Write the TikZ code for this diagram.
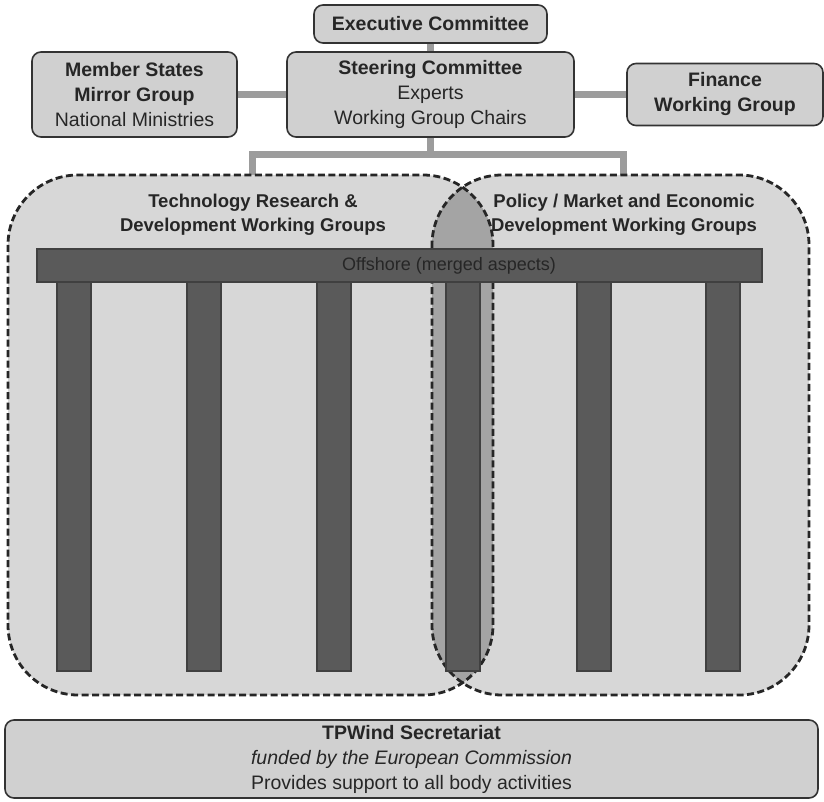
\documentclass[tikz,border=0pt]{standalone}
\usepackage{fontspec}
\setmainfont{Liberation Sans}
\definecolor{boxgray}{HTML}{D0D0D0}
\definecolor{grpgray}{HTML}{D7D7D7}
\definecolor{lensgray}{HTML}{A4A4A4}
\definecolor{bargray}{HTML}{5A5A5A}
\definecolor{linegray}{HTML}{9C9C9C}
\tikzstyle{bx}=[draw=black!80,line width=1.6pt,fill=boxgray,rounded corners=9pt,align=center,inner sep=0pt,text=black!85,font=\fontsize{19.5}{25}\selectfont]
\tikzstyle{conn}=[linegray,line width=7pt]
\tikzstyle{grp}=[fill=grpgray,rounded corners=70pt]
\tikzstyle{grpline}=[draw=black!85,line width=2.8pt,dash pattern=on 7pt off 3.5pt,rounded corners=70pt]
\tikzstyle{pillar}=[draw=black!75,line width=1.2pt,fill=bargray]
\tikzstyle{grplbl}=[align=center,text=black!85,font=\bfseries\fontsize{18.5}{24}\selectfont]

\begin{document}
\begin{tikzpicture}[x=1pt,y=-1pt]
\useasboundingbox (0,0) rectangle (824,802);
% committees
\node[bx,minimum width=233pt,minimum height=38pt] (exec) at (430.5,24) {\textbf{Executive Committee}};
\node[bx,minimum width=287pt,minimum height=85pt] (steer) at (430.5,94.5) {\textbf{Steering Committee}\\Experts\\Working Group Chairs};
\node[bx,minimum width=205pt,minimum height=85pt] (mirror) at (134.5,94.5) {\textbf{Member States}\\\textbf{Mirror Group}\\National Ministries};
\node[bx,minimum width=196pt,minimum height=62pt] (fin) at (725,94.5) {\textbf{Finance}\\\textbf{Working Group}};
\draw[conn] (exec) -- (steer);
\draw[conn] (mirror) -- (steer);
\draw[conn] (steer) -- (fin);
\coordinate (brk) at (430.5,155);
\coordinate (tl) at (252,175);
\coordinate (tr) at (623,175);
\draw[conn] (steer) -- (brk);
\draw[conn] (tl) |- (brk) -| (tr);
% working group areas
\fill[grp] (8,175) rectangle (493,695);
\fill[grp] (432,175) rectangle (809,695);
\begin{scope}
\clip[rounded corners=70pt] (8,175) rectangle (493,695);
\fill[lensgray,rounded corners=70pt] (432,175) rectangle (809,695);
\end{scope}
\draw[grpline] (8,175) rectangle (493,695);
\draw[grpline] (432,175) rectangle (809,695);
\node[grplbl] (techlbl) at (253,215) {Technology Research \&\\Development Working Groups};
\node[grplbl] (polylbl) at (624,215) {Policy / Market and Economic\\Development Working Groups};
% offshore bar and pillars
\draw[pillar] (37,249) rectangle (762,282);
\foreach \x in {57,187,317,446,577,706}
  \draw[pillar] (\x,282) rectangle ++(34,389);
\node[text=black!85,font=\fontsize{18}{22}\selectfont] (offlbl) at (449,266) {Offshore (merged aspects)};
% secretariat
\node[bx,minimum width=813pt,minimum height=78pt] (secr) at (411.5,759) {\textbf{TPWind Secretariat}\\\textit{funded by the European Commission}\\Provides support to all body activities};
\end{tikzpicture}
\end{document}
